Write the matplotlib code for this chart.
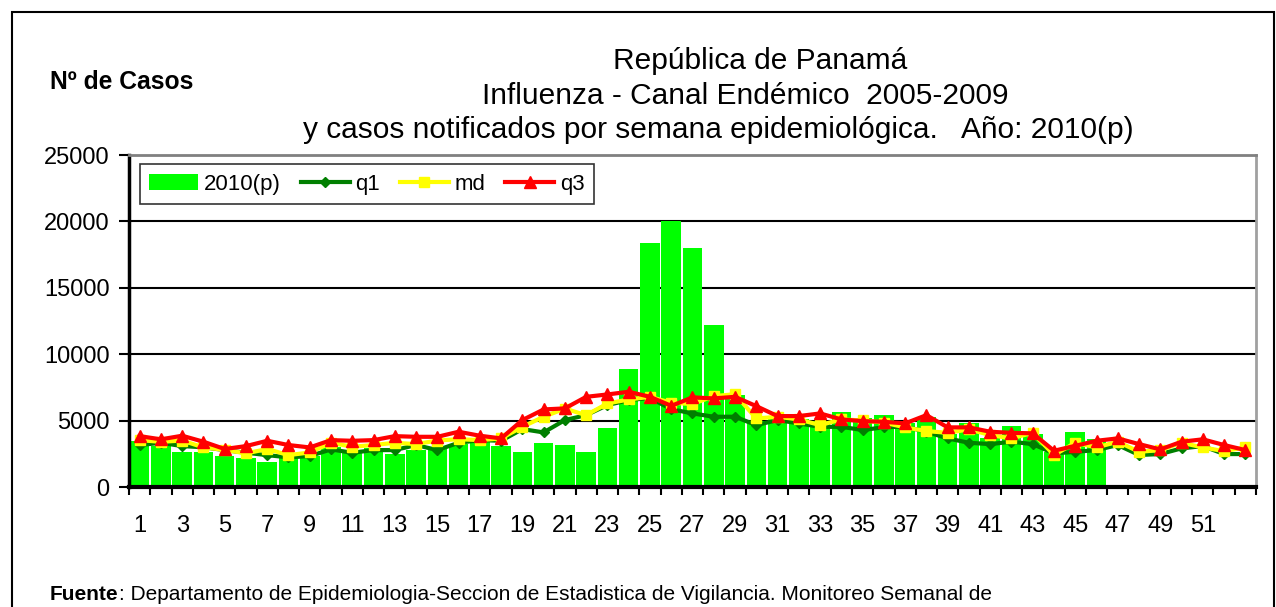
import matplotlib
matplotlib.use("Agg")
import matplotlib.pyplot as plt
from matplotlib.patches import Rectangle
import numpy as np

plt.rcParams['font.family'] = ['Liberation Sans', 'DejaVu Sans']

# Data (epidemiological weeks 1-53)
weeks = list(range(1, 54))
casos_2010 = [3500, 3100, 2650, 2650, 2300, 2150, 1850, 2250, 2300, 3000,
              2800, 2900, 2500, 2800, 3000, 3250, 3400, 3100, 2600, 3350,
              3200, 2600, 4450, 8900, 18400, 20000, 18000, 12200, 6900, 5000,
              5100, 5100, 5000, 5650, 5200, 5400, 4800, 5300, 4000, 4800,
              3700, 4600, 4000, 2650, 4150, 3650]
q1 = [3160, 3330, 3080, 2990, 2780, 2580, 2400, 2230, 2330, 2830,
      2580, 2780, 2780, 3160, 2780, 3330, 3530, 3480, 4360, 4110,
      5040, 5410, 6170, 6540, 6710, 5860, 5540, 5290, 5290, 4660,
      5040, 4790, 4530, 4530, 4290, 4500, 4540, 4160, 3660, 3330,
      3230, 3410, 3230, 2530, 2650, 2780, 3160, 2410, 2480, 2910,
      3080, 2480, 2480]
md = [3530, 3400, 3500, 2980, 2800, 2530, 2860, 2400, 2600, 3330,
      3030, 3160, 3330, 3230, 3500, 3600, 3530, 3660, 4530, 5290,
      5900, 5410, 6290, 6590, 6790, 6340, 6250, 6840, 6990, 5160,
      5290, 5090, 4660, 5090, 5010, 4850, 4490, 4210, 4080, 4340,
      3910, 3660, 4080, 2410, 3330, 2980, 3410, 2650, 2780, 3330,
      2980, 2700, 2980]
q3 = [3830, 3590, 3860, 3410, 2860, 3080, 3480, 3160, 2980, 3530,
      3480, 3530, 3830, 3780, 3780, 4160, 3860, 3660, 5040, 5840,
      5920, 6790, 6970, 7170, 6790, 6110, 6750, 6670, 6790, 6090,
      5340, 5340, 5540, 5090, 4960, 4910, 4790, 5410, 4490, 4490,
      4160, 4080, 4040, 2730, 3100, 3480, 3660, 3230, 2830, 3410,
      3590, 3160, 2780]
xlabels = [str(w) for w in range(1, 52, 2)]

fig = plt.figure(figsize=(12.76, 6.07), dpi=100)
ax = fig.add_axes([129 / 1276, 120 / 607, 1127 / 1276, 332 / 607])

# outer frame
fig.patches.append(Rectangle((12 / 1276, -0.05), 1262 / 1276, 1.05 - 12 / 607,
                             transform=fig.transFigure, fill=False,
                             edgecolor='black', linewidth=1.5))

bars = ax.bar(weeks[:len(casos_2010)], casos_2010, width=0.92, color='#00FF00',
              label='2010(p)', zorder=2)
l1, = ax.plot(weeks, q1, color='#007F00', linewidth=3, marker='D', markersize=5,
              label='q1', zorder=3)
l2, = ax.plot(weeks, md, color='#FFFF00', linewidth=3, marker='s', markersize=7,
              label='md', zorder=4)
l3, = ax.plot(weeks, q3, color='#FF0000', linewidth=3, marker='^', markersize=8,
              label='q3', zorder=5)

ax.set_xlim(0.5, 53.5)
ax.set_ylim(0, 25000)
ax.set_yticks(np.arange(0, 25001, 5000))
ax.set_xticks(range(1, 52, 2))
ax.set_xticklabels(xlabels)
ax.set_xticks(np.arange(0.5, 54, 1), minor=True)
ax.tick_params(axis='x', which='major', length=0, pad=20, labelsize=17)
ax.tick_params(axis='x', which='minor', length=6, width=1.5, direction='out')
ax.tick_params(axis='y', length=7, width=1.5, labelsize=17, pad=7)
ax.grid(axis='y', color='black', linewidth=1.5, zorder=1)
ax.set_axisbelow(True)

ax.spines['left'].set_linewidth(2.5)
ax.spines['bottom'].set_linewidth(3)
ax.spines['top'].set_color('#808080')
ax.spines['top'].set_linewidth(2)
ax.spines['right'].set_color('#A0A0A0')
ax.spines['right'].set_linewidth(2)

leg = ax.legend([bars, l1, l2, l3], ['2010(p)', 'q1', 'md', 'q3'],
                loc='upper left', ncol=4, fontsize=16, frameon=True,
                fancybox=False, edgecolor='black', handlelength=2.2,
                columnspacing=0.9, handletextpad=0.25, borderpad=0.42,
                borderaxespad=0, bbox_to_anchor=(0.0098, 0.972))
leg.get_frame().set_linewidth(1.2)

# titles
fig.text(760 / 1276, 1 - 61 / 607, 'República de Panamá', ha='center', va='center', fontsize=21.5)
fig.text(745 / 1276, 1 - 96 / 607, 'Influenza - Canal Endémico  2005-2009', ha='center', va='center', fontsize=21.5)
fig.text(718 / 1276, 1 - 130 / 607, 'y casos notificados por semana epidemiológica.   Año: 2010(p)',
         ha='center', va='center', fontsize=21.5)
fig.text(50 / 1276, 1 - 82 / 607, 'Nº de Casos', ha='left', va='center', fontsize=17.7, fontweight='bold')

# source note
t1 = fig.text(50 / 1276, 1 - 595 / 607, 'Fuente', ha='left', va='center', fontsize=15, fontweight='bold')
ax.annotate(': Departamento de Epidemiologia-Seccion de Estadistica de Vigilancia. Monitoreo Semanal de',
            xy=(1, 0.5), xycoords=t1, ha='left', va='center', fontsize=15,
            annotation_clip=False)

fig.savefig('out.png', dpi=100)
